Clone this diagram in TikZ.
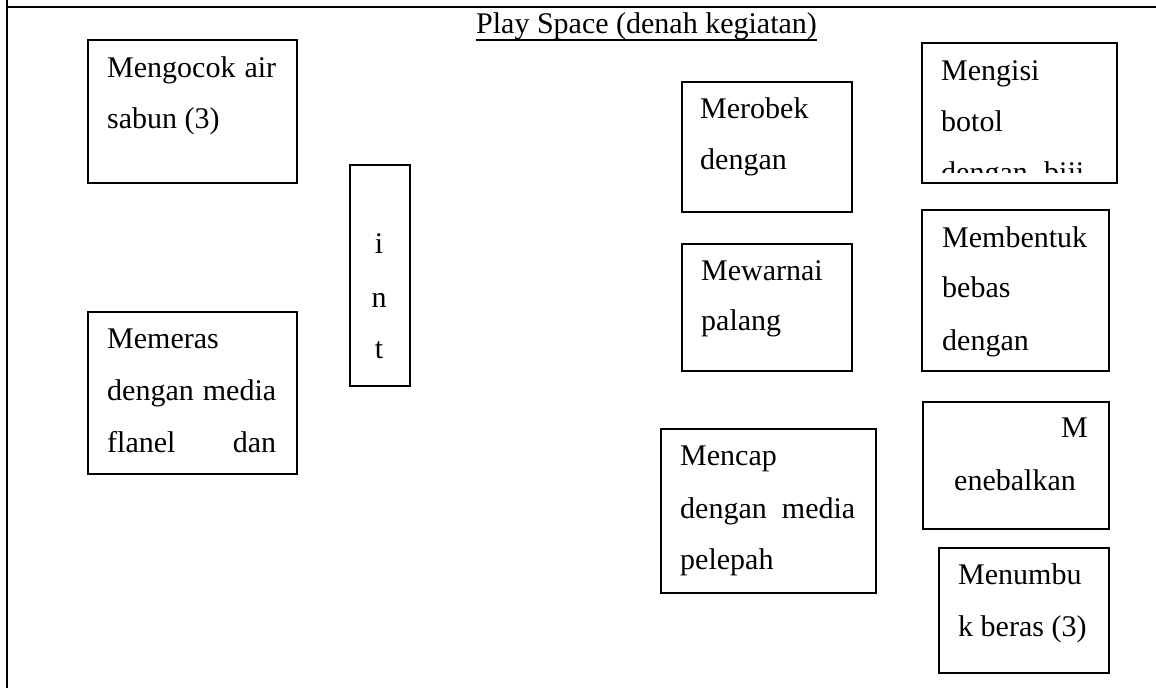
\documentclass[tikz,border=0pt]{standalone}
\usepackage{fontspec}
\setmainfont{Liberation Serif}
\begin{document}
\begin{tikzpicture}[x=1pt,y=-1pt,
  font=\fontsize{30}{36}\selectfont,
  box/.style={draw, line width=1.7pt, inner sep=0pt, anchor=north west},
  txt/.style={anchor=base west, inner sep=0pt},
  ctxt/.style={anchor=base, inner sep=0pt},
  hline/.style={line width=2.4pt},
  vline/.style={line width=1.4pt}]
\useasboundingbox (0,0) rectangle (1156,688);
% frame
\coordinate (fl) at (7,7);
\coordinate (fr) at (1156,7);
\coordinate (ftop) at (7,0);
\coordinate (fbot) at (7,688);
\draw[vline] (ftop) -- (fbot);
\draw[hline] (fl) -- (fr);
% title
\node[txt] (title) at (476,33) {Play Space (denah kegiatan)};
\draw[line width=1.3pt] ([yshift=-7pt]title.base west) -- ([yshift=-7pt]title.base east);
% boxes
\node[box, minimum width=209pt, minimum height=143pt] (b1) at (87,39) {};
\node[box, minimum width=60pt, minimum height=221pt] (b2) at (349,164) {};
\node[box, minimum width=209pt, minimum height=162pt] (b3) at (87,311) {};
\node[box, minimum width=170pt, minimum height=130pt] (b4) at (681,81) {};
\node[box, minimum width=170pt, minimum height=127pt] (b5) at (681,243) {};
\node[box, minimum width=215pt, minimum height=164pt] (b6) at (660,428) {};
\node[box, minimum width=195pt, minimum height=140pt] (b7) at (921,42) {};
\node[box, minimum width=187pt, minimum height=161pt] (b8) at (921,209) {};
\node[box, minimum width=186pt, minimum height=127pt] (b9) at (922,401) {};
\node[box, minimum width=170pt, minimum height=125pt] (b10) at (938,547) {};
% texts
\node[txt] (t1a) at (107,77) {\makebox[169pt][s]{Mengocok air}};
\node[txt] (t1b) at (107,128) {sabun (3)};
\node[ctxt] (t2a) at (379,253) {i};
\node[ctxt] (t2b) at (379,307) {n};
\node[ctxt] (t2c) at (379,358) {t};
\node[txt] (t3a) at (107,348) {Memeras};
\node[txt] (t3b) at (107,400) {\makebox[169pt][s]{dengan media}};
\node[txt] (t3c) at (107,452) {\makebox[169pt][s]{flanel dan}};
\node[txt] (t4a) at (700,118) {Merobek};
\node[txt] (t4b) at (700,169) {dengan};
\node[txt] (t5a) at (701,280) {Mewarnai};
\node[txt] (t5b) at (701,330) {palang};
\node[txt] (t6a) at (680,465) {Mencap};
\node[txt] (t6b) at (680,518) {\makebox[175pt][s]{dengan media}};
\node[txt] (t6c) at (680,569) {pelepah};
\node[txt] (t7a) at (941,80) {Mengisi};
\node[txt] (t7b) at (941,131) {botol};
\begin{scope}
\clip (921,150) rectangle (1116,172);
\node[txt] (t7c) at (941,182) {\makebox[143pt][s]{dengan biji}};
\end{scope}
\node[txt] (t8a) at (942,247) {Membentuk};
\node[txt] (t8b) at (942,297) {bebas};
\node[txt] (t8c) at (942,350) {dengan};
\node[anchor=base east, inner sep=0pt] (t9a) at (1088,437) {M};
\node[txt] (t9b) at (954,490) {enebalkan};
\node[txt] (t10a) at (958,584) {Menumbu};
\node[txt] (t10b) at (958,636) {k beras (3)};
\end{tikzpicture}
\end{document}
